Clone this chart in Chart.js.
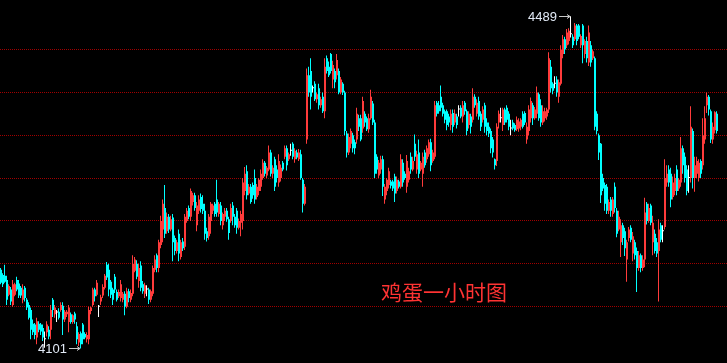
<!DOCTYPE html>
<html>
<head>
<meta charset="utf-8">
<script src="https://cdn.jsdelivr.net/npm/chart.js@4"></script>
<style>
  html, body { margin: 0; padding: 0; background: #000; }
  #wrap { width: 727px; height: 363px; }
</style>
</head>
<body>
<div id="wrap"><canvas id="kline" width="727" height="363"></canvas></div>
<script>
// 鸡蛋 1h candles (open / high / low / close)
const opens = [
  4193,4187,4186,4181,4164,4170,4152,4164,4181,4177,
  4172,4158,4172,4158,4152,4146,4130,4129,4114,4130,
  4129,4125,4112,4120,4123,4123,4158,4141,4143,4144,
  4146,4151,4135,4141,4132,4141,4132,4142,4127,4108,
  4119,4129,4118,4112,4112,4145,4152,4170,4164,4150,
  4156,4163,4172,4199,4193,4179,4170,4185,4167,4162,
  4160,4158,4165,4150,4168,4158,4165,4192,4200,4180,
  4198,4176,4165,4170,4170,4158,4165,4193,4210,4195,
  4222,4240,4265,4238,4255,4240,4254,4230,4215,4235,
  4208,4226,4220,4250,4265,4255,4272,4280,4245,4262,
  4278,4270,4262,4238,4232,4250,4262,4270,4275,4258,
  4268,4245,4255,4262,4252,4250,4268,4255,4262,4242,
  4248,4250,4285,4308,4282,4290,4292,4300,4278,4285,
  4290,4300,4318,4303,4310,4330,4305,4322,4310,4295,
  4300,4318,4325,4335,4322,4332,4340,4322,4330,4322,
  4328,4298,4270,4345,4420,4425,4405,4410,4392,4405,
  4385,4395,4378,4440,4430,4445,4415,4425,4420,4425,
  4400,4410,4400,4352,4330,4340,4350,4342,4345,4370,
  4370,4358,4375,4370,4357,4370,4387,4365,4325,4303,
  4310,4322,4275,4285,4292,4296,4296,4302,4285,4296,
  4290,4318,4305,4290,4298,4325,4310,4340,4310,4330,
  4310,4305,4330,4322,4328,4342,4320,4325,4388,4385,
  4395,4385,4378,4378,4372,4362,4376,4365,4372,4380,
  4382,4372,4388,4378,4362,4372,4368,4395,4375,4390,
  4375,4368,4385,4365,4360,4355,4345,4322,4320,4365,
  4370,4362,4380,4382,4375,4358,4365,4362,4357,4358,
  4360,4375,4376,4345,4355,4370,4385,4370,4375,4398,
  4385,4365,4370,4372,4380,4430,4410,4410,4415,4395,
  4410,4445,4462,4455,4460,4468,4465,4462,4478,4478,
  4455,4478,4445,4460,4435,4455,4440,4440,4375,4350,
  4340,4300,4292,4290,4262,4275,4258,4290,4262,4240,
  4225,4245,4238,4205,4230,4242,4212,4225,4215,4195,
  4210,4195,4205,4270,4250,4268,4225,4235,4225,4215,
  4245,4238,4243,4295,4310,4305,4278,4285,4310,4288,
  4295,4335,4325,4310,4300,4300,4355,4300,4305,4300,
  4320,4315,4345,4385,4395,4378,4345,4356,4375
];
const highs = [
  4195,4189,4199,4186,4176,4173,4181,4178,4185,4181,
  4174,4176,4174,4160,4155,4149,4135,4131,4137,4133,
  4131,4129,4121,4133,4127,4152,4160,4152,4146,4148,
  4155,4155,4146,4146,4152,4143,4141,4144,4132,4120,
  4121,4131,4120,4120,4150,4150,4172,4172,4181,4152,
  4164,4176,4188,4202,4200,4181,4172,4188,4170,4170,
  4181,4167,4168,4172,4171,4170,4210,4208,4204,4200,
  4203,4180,4178,4175,4172,4170,4198,4210,4212,4228,
  4256,4275,4292,4260,4258,4256,4258,4233,4228,4240,
  4228,4230,4258,4265,4268,4288,4283,4283,4272,4280,
  4282,4280,4270,4242,4258,4272,4270,4272,4298,4272,
  4272,4260,4265,4265,4255,4270,4272,4258,4265,4253,
  4262,4300,4313,4315,4293,4293,4295,4310,4293,4300,
  4310,4322,4320,4314,4338,4333,4315,4325,4315,4328,
  4316,4320,4338,4338,4330,4340,4342,4335,4333,4334,
  4333,4300,4293,4428,4430,4440,4408,4413,4400,4410,
  4395,4400,4440,4443,4436,4446,4437,4428,4445,4428,
  4418,4412,4402,4355,4352,4358,4353,4345,4382,4374,
  4374,4395,4378,4372,4375,4403,4390,4368,4328,4321,
  4326,4326,4293,4300,4312,4298,4298,4305,4302,4298,
  4328,4322,4308,4327,4312,4330,4325,4351,4332,4345,
  4320,4330,4333,4338,4345,4346,4333,4390,4390,4390,
  4408,4388,4380,4380,4375,4380,4380,4380,4375,4385,
  4385,4390,4390,4380,4378,4375,4405,4398,4392,4395,
  4378,4384,4388,4370,4365,4358,4348,4323,4364,4379,
  4382,4382,4382,4385,4378,4368,4368,4364,4372,4370,
  4370,4378,4378,4365,4385,4394,4388,4383,4407,4400,
  4392,4385,4382,4382,4447,4438,4412,4419,4419,4415,
  4455,4467,4465,4474,4475,4489,4468,4481,4480,4480,
  4468,4480,4462,4465,4478,4460,4450,4442,4378,4352,
  4341,4305,4295,4293,4275,4278,4278,4295,4265,4262,
  4252,4248,4242,4228,4243,4245,4237,4228,4219,4215,
  4212,4210,4277,4272,4270,4270,4256,4240,4230,4252,
  4248,4245,4322,4315,4315,4312,4302,4305,4315,4300,
  4348,4338,4330,4315,4315,4384,4358,4325,4325,4322,
  4322,4370,4384,4400,4397,4380,4365,4378,4378
];
const lows = [
  4176,4173,4178,4152,4162,4152,4150,4162,4168,4160,
  4160,4154,4156,4146,4135,4112,4117,4112,4106,4120,
  4117,4110,4102,4115,4112,4112,4138,4137,4132,4135,
  4144,4117,4132,4138,4120,4130,4130,4130,4106,4104,
  4101,4106,4112,4108,4106,4141,4150,4156,4162,4138,
  4152,4160,4170,4181,4162,4160,4152,4166,4156,4160,
  4156,4155,4140,4148,4155,4155,4162,4190,4182,4172,
  4168,4165,4160,4162,4153,4155,4162,4190,4190,4190,
  4218,4225,4230,4235,4236,4238,4203,4210,4212,4203,
  4205,4215,4216,4248,4252,4250,4268,4262,4238,4258,
  4260,4258,4228,4226,4228,4235,4258,4255,4255,4255,
  4245,4240,4250,4249,4228,4248,4245,4242,4235,4240,
  4232,4240,4280,4275,4280,4270,4276,4270,4275,4280,
  4285,4298,4302,4300,4308,4302,4300,4285,4295,4290,
  4296,4308,4322,4309,4320,4326,4322,4318,4322,4320,
  4298,4260,4268,4340,4395,4380,4400,4390,4388,4380,
  4382,4376,4370,4422,4418,4422,4405,4405,4415,4398,
  4398,4397,4350,4324,4327,4335,4330,4328,4340,4355,
  4343,4353,4360,4355,4353,4368,4362,4300,4305,4300,
  4305,4279,4270,4280,4288,4288,4285,4272,4282,4288,
  4288,4290,4298,4283,4295,4305,4308,4320,4305,4300,
  4308,4290,4312,4318,4325,4308,4318,4322,4372,4375,
  4378,4372,4364,4356,4360,4356,4353,4362,4358,4372,
  4370,4365,4374,4350,4358,4352,4365,4382,4372,4368,
  4355,4365,4353,4350,4348,4329,4324,4310,4314,4358,
  4365,4355,4362,4365,4356,4350,4356,4354,4355,4354,
  4356,4358,4362,4340,4350,4365,4362,4368,4370,4367,
  4360,4362,4366,4368,4376,4400,4398,4405,4395,4388,
  4408,4440,4445,4452,4456,4464,4452,4460,4455,4462,
  4452,4434,4440,4435,4431,4430,4438,4356,4351,4321,
  4271,4285,4262,4258,4258,4255,4255,4260,4231,4238,
  4208,4222,4209,4179,4226,4225,4203,4205,4167,4192,
  4190,4192,4196,4246,4248,4245,4210,4212,4208,4156,
  4225,4225,4240,4290,4290,4266,4275,4280,4280,4285,
  4290,4305,4295,4280,4283,4295,4288,4284,4300,4296,
  4300,4310,4340,4376,4373,4341,4340,4352,4352
];
const closes = [
  4178,4176,4179,4158,4174,4156,4176,4176,4170,4163,
  4163,4170,4160,4149,4137,4123,4120,4117,4133,4123,
  4121,4114,4112,4129,4115,4146,4146,4149,4143,4137,
  4152,4135,4144,4144,4149,4132,4140,4135,4112,4118,
  4106,4112,4114,4117,4146,4149,4170,4162,4178,4150,
  4161,4173,4186,4184,4170,4164,4158,4170,4158,4167,
  4176,4165,4150,4168,4160,4166,4200,4205,4185,4195,
  4172,4168,4175,4170,4158,4168,4195,4205,4195,4225,
  4250,4270,4235,4255,4240,4252,4225,4215,4225,4212,
  4225,4218,4255,4262,4255,4285,4280,4265,4268,4275,
  4264,4262,4235,4230,4255,4270,4268,4258,4260,4270,
  4250,4258,4262,4252,4236,4265,4255,4245,4242,4250,
  4258,4295,4305,4280,4290,4272,4280,4275,4290,4298,
  4305,4318,4305,4312,4330,4305,4312,4290,4300,4320,
  4312,4310,4335,4315,4328,4332,4325,4332,4324,4330,
  4300,4270,4290,4420,4400,4395,4405,4392,4398,4385,
  4392,4378,4430,4425,4420,4425,4432,4412,4438,4400,
  4415,4400,4355,4330,4348,4355,4335,4335,4375,4360,
  4345,4390,4365,4357,4370,4395,4365,4305,4310,4318,
  4322,4290,4290,4298,4308,4291,4288,4282,4298,4290,
  4322,4295,4300,4320,4308,4310,4320,4325,4328,4305,
  4318,4325,4315,4335,4342,4315,4330,4385,4375,4378,
  4382,4375,4368,4362,4365,4375,4360,4375,4362,4380,
  4372,4385,4378,4355,4375,4360,4395,4385,4388,4372,
  4360,4380,4360,4355,4352,4335,4330,4315,4360,4375,
  4370,4380,4365,4368,4360,4358,4358,4356,4368,4366,
  4368,4360,4365,4360,4380,4390,4370,4380,4400,4370,
  4365,4378,4378,4380,4440,4405,4402,4410,4400,4412,
  4450,4462,4450,4470,4472,4468,4455,4478,4460,4465,
  4466,4455,4460,4440,4470,4435,4448,4360,4355,4330,
  4280,4288,4270,4262,4272,4262,4275,4265,4235,4255,
  4245,4230,4218,4225,4240,4228,4232,4210,4195,4210,
  4195,4205,4260,4250,4265,4248,4248,4215,4212,4240,
  4228,4238,4300,4305,4295,4275,4295,4300,4285,4298,
  4335,4315,4300,4285,4300,4360,4300,4315,4320,4318,
  4305,4350,4370,4395,4380,4345,4360,4377,4355
];

const gridLevels = [4150, 4200, 4250, 4300, 4350, 4400, 4450];
const priceMin = 4084.2;
const priceMax = 4507.9;
const emptySlots = 4;          // blank room right of the last bar
const chartTitle = "鸡蛋一小时图";

const UP = "#ff3b3b", DOWN = "#00ffff", FLAT = "#ffffff";

const labels = opens.map((_, i) => i).concat(Array(emptySlots).fill(""));
const colors = opens.map((o, i) => closes[i] > o ? UP : closes[i] < o ? DOWN : FLAT);
const wickData = lows.map((l, i) => [l, highs[i]]);
const bodyData = opens.map((o, i) => [o, closes[i]]);

function extremeMark(ctx, x, y, text) {
  ctx.strokeStyle = "#c8c8c8";
  ctx.lineWidth = 1;
  const yy = Math.floor(y) + 0.5;
  ctx.beginPath();
  ctx.moveTo(x - 12, yy);
  ctx.lineTo(x - 1, yy);
  ctx.moveTo(x - 4, yy - 2);
  ctx.lineTo(x - 1, yy);
  ctx.lineTo(x - 4, yy + 2);
  ctx.stroke();
  ctx.fillStyle = "#e2eaf6";
  ctx.font = '13px "Liberation Sans"';
  ctx.textAlign = "right";
  ctx.textBaseline = "middle";
  ctx.fillText(text, x - 14, yy + 0.5);
}

const overlay = {
  id: "overlay",
  beforeDatasetsDraw(chart) {
    const { ctx, scales: { y } } = chart;
    ctx.save();
    ctx.strokeStyle = "#a00000";
    ctx.lineWidth = 1;
    ctx.setLineDash([1, 1]);
    gridLevels.forEach(v => {
      const py = Math.floor(y.getPixelForValue(v)) + 0.5;
      ctx.beginPath();
      ctx.moveTo(0, py);
      ctx.lineTo(chart.width, py);
      ctx.stroke();
    });
    ctx.restore();
  },
  afterDatasetsDraw(chart) {
    const { ctx, scales: { x, y } } = chart;
    const hi = highs.indexOf(Math.max(...highs));
    const lo = lows.indexOf(Math.min(...lows));
    ctx.save();
    extremeMark(ctx, x.getPixelForValue(hi), y.getPixelForValue(highs[hi]), String(highs[hi]));
    extremeMark(ctx, x.getPixelForValue(lo), y.getPixelForValue(lows[lo]), String(lows[lo]));

    ctx.fillStyle = "#ff3333";
    ctx.font = '21px "Noto Sans CJK SC"';
    ctx.textAlign = "left";
    ctx.textBaseline = "middle";
    ctx.fillText(chartTitle, 381, 292);
    ctx.restore();
  }
};

// wick (left pixel) and body (right pixel) sit side by side in each 2px slot
new Chart(document.getElementById("kline"), {
  type: "bar",
  data: {
    labels: labels,
    datasets: [
      {
        label: "wick",
        data: wickData,
        backgroundColor: colors,
        barThickness: 1,
      },
      {
        label: "body",
        data: bodyData,
        backgroundColor: colors,
        barThickness: 1,
        minBarLength: 1,
      },
    ],
  },
  options: {
    responsive: false,
    animation: false,
    devicePixelRatio: 1,
    layout: { padding: { left: 0, right: 1, top: 0, bottom: 0 } },
    datasets: { bar: { borderWidth: 0, inflateAmount: 0, grouped: true } },
    scales: {
      x: { display: false, offset: true },
      y: { display: false, min: priceMin, max: priceMax },
    },
    plugins: {
      legend: { display: false },
      tooltip: { enabled: false },
    },
  },
  plugins: [overlay],
});
</script>
</body>
</html>
